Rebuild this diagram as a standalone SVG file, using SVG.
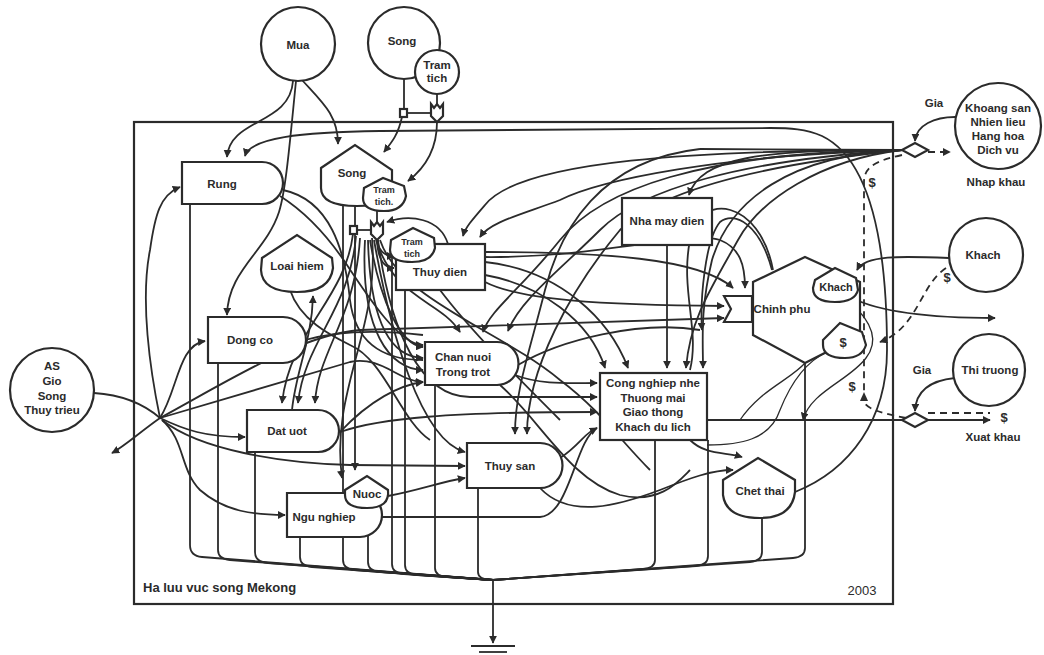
<svg xmlns="http://www.w3.org/2000/svg" width="1044" height="655" viewBox="0 0 1044 655">
<defs>
<marker id="a" viewBox="0 0 10 10" refX="9" refY="5" markerWidth="8" markerHeight="8" markerUnits="userSpaceOnUse" orient="auto"><path d="M0,0 L10,5 L0,10 Z" fill="#2b2b2b"/></marker>
<style>
.n{fill:#fff;stroke:#2b2b2b;stroke-width:2.2}
.c path{fill:none;stroke:#2b2b2b;stroke-width:1.8}
.c path.a{marker-end:url(#a)}
.c path.d{stroke-dasharray:7 5}
.c path.t{stroke-width:1.3}
text{font-family:"Liberation Sans",Arial,sans-serif;font-size:11.5px;font-weight:bold;fill:#2b2b2b;text-anchor:middle}
.s{font-size:9px}
.l{text-anchor:start;font-size:13px}
</style>
</defs>
<rect width="1044" height="655" fill="#fff"/>
<rect x="134" y="122" width="759" height="482" fill="none" stroke="#2b2b2b" stroke-width="2.2"/>
<text class="l" x="143" y="592">Ha luu vuc song Mekong</text>
<text x="862" y="595" style="font-size:13px;font-weight:normal">2003</text>

<g class="c" id="connectors">
<path class="a" d="M293,81 C290,125 230,118 227,157"/>
<path class="a" d="M302,80 C322,102 338,115 338,144"/>
<path class="a" d="M296,81 C290,140 286,190 279,212 C266,252 228,270 227,315"/>
<path d="M404,79 L404,109"/>
<path d="M437,94 L437,104"/>
<path d="M407,113 L431,113"/>
<path class="a" d="M402,117 C398,135 392,142 384,152"/>
<path class="a" d="M437,122 C437,150 425,168 408,181"/>
<path class="a" d="M795,492 C850,470 887,420 887,350 C887,250 872,160 822,136 C806,129 790,128 770,128 L380,131 C300,132 250,138 245,156"/>
<path d="M902,150 L700,149"/>
<path class="a" d="M902,150 C760,149 700,158 689,195"/>
<path class="a" d="M902,150 C700,150 520,160 485,205 C472,220 465,228 463,236"/>
<path class="a" d="M902,150 C720,155 600,180 560,200 C520,215 490,222 480,237"/>
<path class="a" d="M902,150 C790,155 730,200 712,260 C700,310 703,340 703,368"/>
<path class="a" d="M902,150 C820,160 760,200 738,240 C710,290 690,320 686,368"/>
<path class="a" d="M902,150 C700,152 600,190 560,240 C520,290 490,310 483,332"/>
<path class="a" d="M902,150 C740,160 640,190 600,230 C560,270 520,300 508,331"/>
<path class="a" d="M902,150 C760,165 660,190 620,230 C570,290 527,370 527,434"/>
<path class="a" d="M700,149 C600,160 560,230 545,290 C530,350 515,390 515,434"/>
<path class="a" d="M667,245 L667,368"/>
<path class="a" d="M485,262 C560,270 610,320 628,368"/>
<path class="a" d="M485,275 C540,285 590,320 605,368"/>
<path class="a" d="M485,252 C600,252 700,258 733,288"/>
<path class="a" d="M485,257 C600,258 690,230 720,240 C740,248 745,265 745,288"/>
<path class="a" d="M485,282 C520,300 600,305 724,306"/>
<path class="a" d="M448,244 C440,218 410,214 387,222"/>
<path d="M440,290 C470,330 520,380 560,420"/>
<path class="a" d="M772,270 C760,225 735,210 720,222 C705,240 700,300 702,330"/>
<path d="M773,270 C760,200 700,190 690,240 C680,290 700,330 690,370"/>
<path class="a" d="M852,298 C880,312 930,318 995,318"/>
<path class="a" d="M949,258 C900,256 865,255 857,270"/>
<path class="a t" d="M850,302 C870,320 880,340 866,358 C850,380 810,392 803,420"/>
<path class="t" d="M827,352 C805,362 790,385 780,410 C770,440 740,445 707,445"/>
<path class="t" d="M805,363 C790,380 760,390 740,420"/>
<path class="a" d="M690,440 C705,455 725,452 742,457"/>
<path class="a" d="M540,488 C570,520 620,505 660,490 C690,478 712,470 733,470"/>
<path d="M500,385 C540,420 570,480 620,495 C660,505 680,480 690,470"/>
<path class="a" d="M707,420 L990,420"/>
<path class="a" d="M955,117 C935,117 916,125 915,141"/>
<path class="a" d="M955,378 C935,380 916,388 915,411"/>
<path class="a d" d="M928,152 L950,152"/>
<path class="d" d="M928,413 L990,413"/>
<path class="d" d="M902,155 C880,160 864,165 864,182 L864,400"/>
<path class="d" d="M906,418 C885,414 868,410 864,402"/>
<path class="a d" d="M946,268 C920,285 918,328 880,342"/>
<path d="M94,393 C125,395 145,405 160,418"/>
<path class="a" d="M160,418 C140,432 125,446 112,453"/>
<path class="a" d="M160,418 C150,370 140,300 150,250 C155,215 160,195 180,187"/>
<path class="a" d="M160,418 C178,390 178,345 205,341"/>
<path class="a" d="M160,418 C185,430 205,437 245,437"/>
<path class="a" d="M162,420 C185,440 180,470 200,490 C225,512 255,515 285,515"/>
<path class="a" d="M162,420 C200,450 280,463 350,465 L465,466"/>
<path class="a" d="M160,418 L350,362 C380,355 400,382 423,382"/>
<path class="a" d="M160,418 C230,380 300,335 360,330 L724,318"/>
<path class="a" d="M280,196 C310,215 330,240 345,262 C370,300 400,345 423,345"/>
<path d="M283,190 C330,200 345,250 350,300 C355,340 380,360 423,360"/>
<path d="M305,340 C340,330 380,330 423,335"/>
<path class="a" d="M292,410 C296,370 312,340 313,296"/>
<path d="M290,290 C300,320 330,335 350,345 C385,360 400,420 430,440"/>
<path d="M343,206 L343,230"/>
<path d="M355,206 L355,226"/>
<path class="a" d="M355,234 L355,470"/>
<path d="M377,211 L377,222"/>
<path d="M357,230 L371,230"/>
<path class="a" d="M377,238 C378,252 385,256 394,256"/>
<path class="a" d="M377,240 C378,262 385,268 394,268"/>
<path class="a" d="M353,234 C345,300 290,330 282,403"/>
<path class="a" d="M356,236 C350,310 305,340 298,403"/>
<path class="a" d="M360,238 C355,320 318,350 315,403"/>
<path class="a" d="M372,238 C380,330 330,390 342,478"/>
<path class="a" d="M370,240 C380,300 400,345 423,347"/>
<path class="a" d="M368,240 C370,320 390,357 423,358"/>
<path class="a" d="M365,240 C360,330 390,370 423,370"/>
<path class="a" d="M374,240 C390,330 420,440 465,452"/>
<path class="a" d="M378,240 C390,330 420,397 470,397 L597,397"/>
<path class="a" d="M376,240 C395,300 440,300 460,332"/>
<path d="M380,240 C400,300 500,330 560,380 C600,410 620,440 650,470"/>
<path class="a" d="M340,432 C380,418 450,412 597,412"/>
<path class="a" d="M340,432 C370,400 400,385 423,382"/>
<path class="a" d="M388,496 C420,490 440,482 465,478"/>
<path class="a" d="M382,517 L540,517 C570,515 575,440 597,428"/>
<path class="a" d="M515,375 C540,385 570,383 597,383"/>
<path d="M560,458 C580,445 585,432 597,428"/>
<path d="M518,365 C560,340 640,320 700,330"/>
<path d="M190,204 L190,545 Q190,556 202,557 L493,580"/>
<path d="M218,363 L218,550 Q218,559 230,560 L493,580"/>
<path d="M255,452 L255,552 Q255,562 268,563 L493,580"/>
<path d="M300,537 L300,557 Q300,566 312,567 L493,580"/>
<path d="M343,230 L343,560 Q343,569 355,570 L493,580"/>
<path d="M368,508 L368,562 Q368,571 380,572 L493,580"/>
<path d="M392,240 L392,564 Q392,573 404,574 L493,580"/>
<path d="M405,290 L405,565 Q405,574 417,575 L493,580"/>
<path d="M435,385 L435,568 Q435,576 447,577 L493,580"/>
<path d="M478,488 L478,572 Q478,579 490,580"/>
<path d="M655,440 L655,560 Q655,568 643,569 L493,580"/>
<path d="M708,440 L708,556 Q708,565 696,566 L493,580"/>
<path d="M762,518 L762,552 Q762,561 750,562 L493,580"/>
<path d="M805,363 L805,548 Q805,557 793,558 L493,580"/>
<path class="a" d="M493,580 L493,643"/>
<path d="M471,646 L515,646"/>
<path d="M479,652 L507,652"/>
</g>
<polygon points="864,392 860,401 868,401" fill="#2b2b2b"/>

<g id="mua"><circle class="n" cx="298" cy="44" r="37"/><text x="298" y="49">Mua</text></g>
<g id="song-src"><circle class="n" cx="404" cy="43" r="36"/><text x="402" y="45">Song</text></g>
<g id="tramtich-src"><circle class="n" cx="437" cy="72" r="22"/><text x="437" y="69">Tram</text><text x="437" y="82">tich</text></g>
<g id="gate1"><path class="n" d="M431,104 L434,108 L437,104 L440,108 L443,104 L443,116 L437,122 L431,116 Z" stroke-width="1.6"/><rect class="n" x="400" y="109" width="7" height="8" stroke-width="1.6"/></g>
<g id="khoangsan"><circle class="n" cx="998" cy="126" r="43"/><text x="998" y="112">Khoang san</text><text x="998" y="126">Nhien lieu</text><text x="998" y="140">Hang hoa</text><text x="998" y="154">Dich vu</text></g>
<text x="996" y="186">Nhap khau</text>
<text x="934" y="107">Gia</text>
<g id="khach-src"><circle class="n" cx="986" cy="255" r="37"/><text x="983" y="259">Khach</text></g>
<g id="thitruong"><circle class="n" cx="989" cy="370" r="36"/><text x="990" y="374">Thi truong</text></g>
<text x="922" y="374">Gia</text>
<text x="993" y="441">Xuat khau</text>
<g id="as"><circle class="n" cx="52" cy="390" r="42"/><text x="52" y="370">AS</text><text x="52" y="385">Gio</text><text x="52" y="400">Song</text><text x="52" y="414">Thuy trieu</text></g>
<g id="diamond-import"><path class="n" d="M902,150 L915,143 L928,150 L915,157 Z" stroke-width="1.8"/></g>
<g id="diamond-export"><path class="n" d="M902,420 L915,413 L928,420 L915,427 Z" stroke-width="1.8"/></g>
<text x="872" y="187" style="font-size:13px">$</text>
<text x="947" y="282" style="font-size:13px">$</text>
<text x="852" y="391" style="font-size:13px">$</text>
<text x="1004" y="422" style="font-size:13px">$</text>

<g id="rung"><path class="n" d="M182,162 H262 A21,21 0 0 1 262,204 H182 Z"/><text x="222" y="188">Rung</text></g>
<g id="song-tank"><path class="n" d="M321,168 L355,145 L392,170 L392,185 Q390,206 357,206 Q321,206 321,188 Z"/><text x="352" y="177">Song</text></g>
<g id="tramtich1"><path class="n" d="M364,188 L383,178 L404,186 L406,196 Q403,211 384,211 Q363,211 363,198 Z" stroke-width="1.8"/><text class="s" x="384" y="193">Tram</text><text class="s" x="384" y="205">tich.</text></g>
<g id="gate2"><path class="n" d="M371,222 L374,226 L377,222 L380,226 L383,222 L383,234 L377,240 L371,234 Z" stroke-width="1.6"/><rect class="n" x="350" y="226" width="7" height="8" stroke-width="1.6"/></g>
<g id="loaihiem"><path class="n" d="M262,258 L297,235 L332,258 L333,268 Q330,292 297,292 Q262,292 261,270 Z"/><text x="297" y="270">Loai hiem</text></g>
<g id="thuydien"><rect class="n" x="396" y="244" width="89" height="46"/><text x="440" y="276">Thuy dien</text></g>
<g id="tramtich2"><path class="n" d="M391,240 L413,228 L434,238 L435,248 Q432,262 412,262 Q390,262 390,250 Z" stroke-width="1.8"/><text class="s" x="412" y="245">Tram</text><text class="s" x="412" y="257">tich</text></g>
<g id="nhamaydien"><rect class="n" x="622" y="198" width="90" height="47"/><text x="667" y="225">Nha may dien</text></g>
<g id="dongco"><path class="n" d="M208,317 H283 A23,23 0 0 1 283,363 H208 Z"/><text x="250" y="344">Dong co</text></g>
<g id="channuoi"><path class="n" d="M425,342 H497 A21.5,21.5 0 0 1 497,385 H425 Z"/><text x="463" y="361">Chan nuoi</text><text x="463" y="376">Trong trot</text></g>
<g id="congnghiep"><rect class="n" x="600" y="373" width="107" height="67"/><text x="653" y="387">Cong nghiep nhe</text><text x="653" y="402">Thuong mai</text><text x="653" y="416">Giao thong</text><text x="653" y="431">Khach du lich</text></g>
<g id="datuot"><path class="n" d="M247,410 H318 A21,21 0 0 1 318,452 H247 Z"/><text x="287" y="435">Dat uot</text></g>
<g id="thuysan"><path class="n" d="M467,443 H540 A22.5,22.5 0 0 1 540,488 H467 Z"/><text x="510" y="470">Thuy san</text></g>
<g id="ngunghiep"><path class="n" d="M287,493 H360 A22,22 0 0 1 360,537 H287 Z"/><text x="324" y="521">Ngu nghiep</text></g>
<g id="nuoc"><path class="n" d="M345,490 L367,476 L388,490 Q390,508 367,508 Q345,508 345,495 Z"/><text x="367" y="498">Nuoc</text></g>
<g id="chinhphu"><path class="n" d="M805,257 L860,282 L860,335 L805,363 L753,335 L753,282 Z"/><text x="782" y="313">Chinh phu</text>
<path class="n" d="M815,280 L835,268 L856,278 L858,290 Q855,302 835,302 Q813,302 813,288 Z" stroke-width="1.8"/><text x="836" y="291" style="font-size:11px">Khach</text>
<path class="n" d="M823,340 L840,323 L862,332 L866,345 Q862,358 845,358 Q823,358 823,345 Z" stroke-width="1.8"/><text x="843" y="347" style="font-size:13px">$</text></g>
<g id="gate3"><path class="n" d="M724,296 L752,296 L752,322 L724,322 L731,309 Z" stroke-width="1.8"/></g>
<g id="chetthai"><path class="n" d="M723,480 L758,458 L795,480 L795,492 Q792,518 760,518 Q726,518 723,495 Z"/><text x="760" y="495">Chet thai</text></g>
</svg>
